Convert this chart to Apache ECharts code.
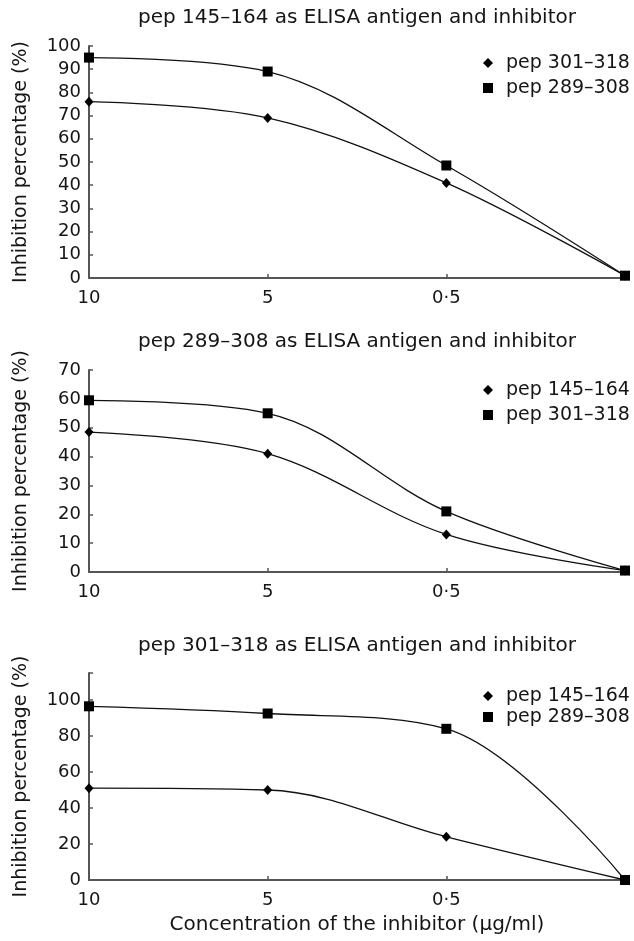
<!DOCTYPE html>
<html>
<head>
<meta charset="utf-8">
<script src="https://cdn.jsdelivr.net/npm/echarts@6/dist/echarts.min.js"></script>
<style>
html,body{margin:0;padding:0;background:#fff;}
#c{width:634px;height:941px;}
</style>
</head>
<body>
<div id="c"></div>
<script>
// Categories (concentration of inhibitor, µg/ml); last point unlabeled
var categories = ['10', '5', '0·5', ''];

// Panel titles
var titles = [
  'pep 145–164 as ELISA antigen and inhibitor',
  'pep 289–308 as ELISA antigen and inhibitor',
  'pep 301–318 as ELISA antigen and inhibitor'
];

// Panel 1 series
var p1DiamondName = 'pep 301–318';
var p1Diamond = [76, 69, 41, 1];
var p1SquareName = 'pep 289–308';
var p1Square = [95, 89, 48.5, 1];

// Panel 2 series
var p2DiamondName = 'pep 145–164';
var p2Diamond = [48.5, 41, 13, 0.5];
var p2SquareName = 'pep 301–318';
var p2Square = [59.5, 55, 21, 0.5];

// Panel 3 series
var p3DiamondName = 'pep 145–164';
var p3Diamond = [51, 50, 24, 0];
var p3SquareName = 'pep 289–308';
var p3Square = [96.5, 92.5, 84, 0];

// Y axis settings per panel
var yMax = [100, 70, 115];
var yInterval = [10, 10, 20];

var yName = 'Inhibition percentage (%)';
var xName = 'Concentration of the inhibitor (µg/ml)';

var FONT = 'DejaVu Sans';
var TXT = '#151515';
var AX = '#555';

var grids = [
  {left: 89, right: 9, top: 46, height: 232},
  {left: 89, right: 9, top: 370, height: 202},
  {left: 89, right: 9, top: 673, height: 207}
];
var titleTops = [8, 332, 636];
var legendTops = [53, 380, 686];
var legendLineH = [20, 20, 20];
var legendGap = [5, 5, 1];

var panels = [
  [p1DiamondName, p1Diamond, p1SquareName, p1Square],
  [p2DiamondName, p2Diamond, p2SquareName, p2Square],
  [p3DiamondName, p3Diamond, p3SquareName, p3Square]
];

var option = {
  animation: false,
  backgroundColor: '#fff',
  textStyle: {fontFamily: FONT, color: TXT},
  title: [], grid: [], xAxis: [], yAxis: [], legend: [], series: []
};

panels.forEach(function (p, i) {
  option.title.push({
    text: titles[i], left: 357, top: titleTops[i], textAlign: 'center', padding: 0,
    textStyle: {fontFamily: FONT, fontSize: 20, fontWeight: 'normal', color: TXT}
  });
  option.grid.push(grids[i]);
  option.xAxis.push({
    type: 'category', gridIndex: i, data: categories, boundaryGap: false,
    axisLine: {lineStyle: {color: AX, width: 2}},
    axisTick: {inside: true, length: 4, lineStyle: {color: AX, width: 1.5}},
    axisLabel: {fontFamily: FONT, fontSize: 18, color: TXT, margin: 11},
    splitLine: {show: false},
    name: i === 2 ? xName : '', nameLocation: 'middle', nameGap: 35,
    nameTextStyle: {fontFamily: FONT, fontSize: 20, color: TXT}
  });
  option.yAxis.push({
    type: 'value', gridIndex: i, min: 0, max: yMax[i], interval: yInterval[i],
    axisLine: {show: true, lineStyle: {color: AX, width: 2}},
    axisTick: {show: true, inside: true, length: 4, lineStyle: {color: AX, width: 1.5}},
    axisLabel: {
      fontFamily: FONT, fontSize: 18, color: TXT, margin: 8,
      formatter: function (v) { return v % yInterval[i] === 0 ? String(v) : ''; }
    },
    splitLine: {show: false},
    name: yName, nameLocation: 'middle', nameGap: 58, nameRotate: 90,
    nameTextStyle: {fontFamily: FONT, fontSize: 19, color: TXT}
  });
  option.legend.push({
    orient: 'vertical', left: 483, top: legendTops[i], padding: 0,
    itemWidth: 10, itemHeight: 10, itemGap: legendGap[i],
    textStyle: {fontFamily: FONT, fontSize: 19, color: TXT, lineHeight: legendLineH[i], padding: [0, 0, 0, 8]},
    data: [
      {name: p[0], icon: 'diamond', itemStyle: {color: '#000'}},
      {name: p[2], icon: 'rect', itemStyle: {color: '#000'}}
    ],
    selectedMode: false
  });
  option.series.push({
    type: 'line', name: p[0], xAxisIndex: i, yAxisIndex: i, data: p[1],
    smooth: 0.35, symbol: 'diamond', symbolSize: [9, 10],
    lineStyle: {color: '#111', width: 1.3}, itemStyle: {color: '#000'}
  });
  option.series.push({
    type: 'line', name: p[2], xAxisIndex: i, yAxisIndex: i, data: p[3],
    smooth: 0.35, symbol: 'rect', symbolSize: 10,
    lineStyle: {color: '#111', width: 1.3}, itemStyle: {color: '#000'}
  });
});

var chart = echarts.init(document.getElementById('c'), null, {renderer: 'canvas'});
chart.setOption(option);
</script>
</body>
</html>
